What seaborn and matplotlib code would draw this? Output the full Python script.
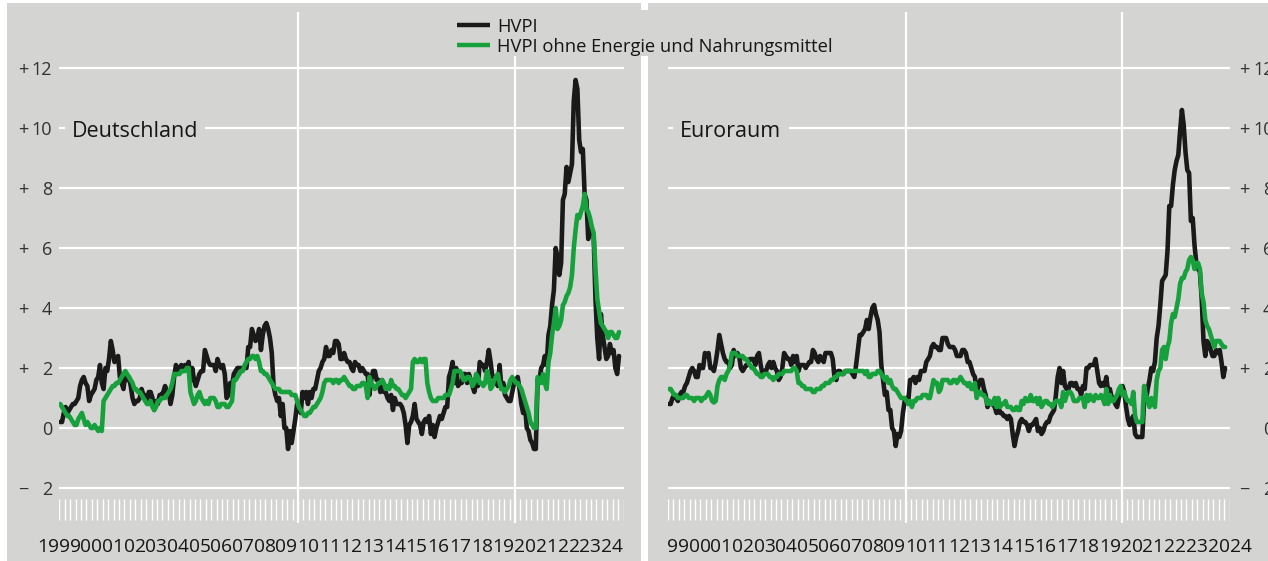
import os
import numpy as np
import pandas as pd
import matplotlib
matplotlib.use("Agg")
import matplotlib.pyplot as plt
import seaborn as sns
from matplotlib.patches import Rectangle
from matplotlib.lines import Line2D
from matplotlib import font_manager as fm

# ---------------- data (annual rates, %, monthly 1999-01 .. 2024-10) ----------------
start_year = 1999

de_hvpi = [
    [0.2, 0.2, 0.5, 0.7, 0.5, 0.6, 0.7, 0.8, 0.8, 0.9, 1.0, 1.4],
    [1.6, 1.7, 1.5, 1.4, 0.9, 1.1, 1.2, 1.3, 1.6, 1.7, 2.1, 1.5],
    [1.3, 2.0, 1.9, 2.3, 2.9, 2.6, 2.2, 2.3, 2.4, 1.7, 1.5, 1.3],
    [1.8, 1.6, 1.7, 1.4, 1.0, 0.8, 0.9, 0.9, 1.0, 1.3, 1.1, 1.1],
    [0.9, 1.2, 1.2, 1.0, 0.6, 0.9, 0.8, 1.1, 1.1, 1.2, 1.4, 1.2],
    [1.2, 0.8, 1.1, 1.7, 2.1, 1.9, 2.0, 2.1, 1.9, 2.1, 2.0, 2.2],
    [1.6, 2.0, 1.6, 1.4, 1.6, 1.8, 1.9, 1.9, 2.6, 2.4, 2.2, 2.1],
    [2.1, 2.1, 1.9, 2.3, 2.1, 2.0, 2.1, 1.8, 1.0, 1.1, 1.5, 1.4],
    [1.8, 1.9, 2.0, 2.0, 2.0, 2.0, 2.0, 2.0, 2.7, 2.7, 3.3, 3.1],
    [2.9, 3.0, 3.3, 2.6, 3.1, 3.4, 3.5, 3.3, 3.0, 2.5, 1.4, 1.1],
    [0.9, 1.0, 0.4, 0.8, 0.0, 0.0, -0.7, -0.1, -0.5, -0.1, 0.3, 0.8],
    [0.8, 0.5, 1.2, 1.0, 1.2, 0.8, 1.2, 1.0, 1.3, 1.3, 1.6, 1.9],
    [2.0, 2.2, 2.3, 2.7, 2.4, 2.4, 2.6, 2.5, 2.9, 2.9, 2.8, 2.3],
    [2.3, 2.5, 2.3, 2.2, 2.2, 2.0, 1.9, 2.2, 2.1, 2.1, 1.9, 2.0],
    [1.9, 1.8, 1.8, 1.1, 1.6, 1.9, 1.9, 1.6, 1.6, 1.2, 1.6, 1.2],
    [1.2, 1.0, 0.9, 1.1, 0.6, 1.0, 0.8, 0.8, 0.8, 0.7, 0.5, 0.1],
    [-0.5, 0.1, 0.2, 0.4, 0.8, 0.3, 0.2, 0.1, -0.2, 0.2, 0.3, 0.2],
    [0.4, -0.2, 0.1, -0.3, 0.0, 0.2, 0.4, 0.3, 0.5, 0.7, 0.7, 1.7],
    [1.9, 2.2, 1.5, 2.0, 1.4, 1.5, 1.5, 1.8, 1.8, 1.5, 1.8, 1.6],
    [1.4, 1.2, 1.5, 1.4, 2.2, 2.1, 2.1, 1.9, 2.2, 2.6, 2.2, 1.7],
    [1.7, 1.7, 1.4, 2.1, 1.3, 1.5, 1.1, 1.0, 0.9, 0.9, 1.2, 1.5],
    [1.6, 1.7, 1.3, 0.8, 0.5, 0.8, 0.0, -0.1, -0.4, -0.5, -0.7, -0.7],
    [1.6, 1.6, 2.0, 2.1, 2.4, 2.1, 3.1, 3.4, 4.1, 4.6, 6.0, 5.7],
    [5.1, 5.5, 7.6, 7.8, 8.7, 8.2, 8.5, 8.8, 10.9, 11.6, 11.3, 9.6],
    [9.2, 9.3, 7.8, 7.6, 6.3, 6.8, 6.5, 6.4, 4.3, 3.0, 2.3, 3.8],
    [3.1, 2.7, 2.3, 2.4, 2.8, 2.5, 2.6, 2.0, 1.8, 2.4],
]

de_core = [
    [0.8, 0.7, 0.6, 0.5, 0.4, 0.4, 0.3, 0.2, 0.1, 0.1, 0.3, 0.4],
    [0.5, 0.3, 0.1, 0.2, 0.1, 0.0, 0.0, 0.1, 0.0, -0.1, 0.0, -0.1],
    [0.9, 1.0, 1.1, 1.2, 1.3, 1.4, 1.4, 1.5, 1.5, 1.6, 1.7, 1.8],
    [1.9, 1.8, 1.7, 1.6, 1.5, 1.3, 1.3, 1.2, 1.2, 1.1, 1.0, 0.9],
    [0.8, 0.8, 0.9, 0.7, 0.6, 0.7, 0.9, 0.9, 1.0, 1.0, 1.0, 1.1],
    [1.2, 1.3, 1.5, 1.8, 1.8, 1.8, 1.8, 1.9, 1.9, 1.9, 2.0, 2.0],
    [1.2, 1.0, 0.8, 0.9, 1.1, 1.2, 1.0, 0.9, 0.8, 0.9, 0.8, 1.0],
    [1.0, 1.0, 0.9, 0.7, 0.7, 0.8, 0.8, 0.8, 0.7, 0.7, 0.8, 0.9],
    [1.6, 1.6, 1.7, 1.8, 1.9, 1.9, 2.1, 2.2, 2.3, 2.3, 2.4, 2.4],
    [2.3, 2.4, 2.2, 1.9, 1.9, 1.8, 1.8, 1.7, 1.6, 1.5, 1.4, 1.3],
    [1.3, 1.3, 1.2, 1.2, 1.2, 1.2, 1.2, 1.2, 1.1, 1.1, 1.1, 0.9],
    [0.7, 0.6, 0.5, 0.4, 0.4, 0.5, 0.5, 0.6, 0.7, 0.7, 0.8, 0.9],
    [1.0, 1.2, 1.5, 1.6, 1.6, 1.6, 1.6, 1.5, 1.6, 1.6, 1.5, 1.6],
    [1.6, 1.7, 1.6, 1.5, 1.4, 1.4, 1.3, 1.3, 1.4, 1.4, 1.4, 1.5],
    [1.5, 1.4, 1.0, 1.7, 1.5, 1.4, 1.3, 1.4, 1.5, 1.5, 1.6, 1.5],
    [1.3, 1.4, 1.3, 1.6, 1.4, 1.4, 1.3, 1.3, 1.2, 1.1, 1.1, 1.0],
    [1.1, 1.2, 1.3, 2.2, 2.3, 2.2, 2.2, 2.3, 2.2, 2.3, 2.3, 1.5],
    [1.2, 1.0, 0.9, 0.9, 0.9, 1.0, 1.0, 1.0, 1.0, 1.1, 1.1, 1.1],
    [1.3, 1.5, 1.9, 1.9, 1.9, 1.9, 1.8, 1.6, 1.6, 1.7, 1.7, 1.6],
    [1.4, 1.5, 1.8, 1.7, 1.5, 1.5, 1.4, 1.5, 1.9, 1.7, 1.3, 1.4],
    [1.6, 1.7, 1.8, 1.5, 1.3, 1.3, 1.2, 1.3, 1.4, 1.6, 1.7, 1.6],
    [1.5, 1.5, 1.4, 1.3, 1.1, 0.9, 0.7, 0.5, 0.2, 0.1, 0.0, 0.0],
    [1.7, 1.6, 1.5, 1.8, 1.5, 1.3, 2.2, 2.5, 3.1, 3.5, 4.0, 3.3],
    [3.4, 3.6, 4.1, 4.2, 4.4, 4.5, 4.7, 5.1, 6.0, 6.6, 7.1, 7.0],
    [7.2, 7.4, 7.8, 7.3, 7.2, 7.0, 6.7, 6.5, 5.3, 4.3, 3.9, 3.5],
    [3.4, 3.3, 3.2, 3.0, 3.2, 3.2, 3.1, 3.0, 3.0, 3.2],
]

ea_hvpi = [
    [0.8, 0.8, 1.0, 1.1, 1.0, 0.9, 1.1, 1.2, 1.2, 1.4, 1.5, 1.7],
    [1.9, 2.0, 1.9, 1.7, 1.7, 2.1, 2.0, 2.0, 2.5, 2.4, 2.5, 2.0],
    [2.0, 1.9, 2.2, 2.6, 3.1, 2.8, 2.5, 2.3, 2.2, 2.2, 2.0, 2.1],
    [2.6, 2.4, 2.5, 2.4, 2.0, 1.9, 2.0, 2.1, 2.1, 2.3, 2.3, 2.3],
    [2.1, 2.4, 2.5, 2.1, 1.8, 1.9, 1.9, 2.1, 2.2, 2.0, 2.2, 2.0],
    [1.9, 1.6, 1.7, 2.0, 2.5, 2.4, 2.3, 2.3, 2.1, 2.4, 2.2, 2.4],
    [1.9, 2.1, 2.1, 2.1, 2.0, 2.1, 2.2, 2.2, 2.6, 2.5, 2.3, 2.2],
    [2.4, 2.3, 2.2, 2.5, 2.5, 2.5, 2.5, 2.3, 1.7, 1.6, 1.9, 1.9],
    [1.8, 1.8, 1.9, 1.9, 1.9, 1.9, 1.8, 1.7, 2.1, 2.6, 3.1, 3.1],
    [3.2, 3.3, 3.6, 3.3, 3.7, 4.0, 4.1, 3.8, 3.6, 3.2, 2.1, 1.6],
    [1.1, 1.2, 0.6, 0.6, 0.0, -0.1, -0.6, -0.2, -0.3, -0.1, 0.5, 0.9],
    [1.0, 0.9, 1.6, 1.6, 1.7, 1.5, 1.7, 1.6, 1.9, 1.9, 1.9, 2.2],
    [2.3, 2.4, 2.7, 2.8, 2.7, 2.7, 2.6, 2.6, 3.0, 3.0, 3.0, 2.8],
    [2.7, 2.7, 2.7, 2.6, 2.4, 2.4, 2.4, 2.6, 2.6, 2.5, 2.2, 2.2],
    [2.0, 1.8, 1.7, 1.2, 1.4, 1.6, 1.6, 1.3, 1.1, 0.7, 0.9, 0.8],
    [0.8, 0.7, 0.5, 0.7, 0.5, 0.5, 0.4, 0.4, 0.3, 0.4, 0.3, -0.2],
    [-0.6, -0.3, -0.1, 0.2, 0.3, 0.2, 0.2, 0.1, -0.1, 0.1, 0.1, 0.2],
    [0.3, -0.1, 0.0, -0.2, -0.1, 0.1, 0.2, 0.2, 0.4, 0.5, 0.6, 1.1],
    [1.7, 2.0, 1.5, 1.9, 1.4, 1.3, 1.3, 1.5, 1.5, 1.4, 1.5, 1.3],
    [1.3, 1.1, 1.4, 1.3, 2.0, 2.0, 2.1, 2.1, 2.1, 2.3, 1.9, 1.5],
    [1.4, 1.5, 1.4, 1.7, 1.2, 1.3, 1.0, 1.0, 0.8, 0.7, 1.0, 1.3],
    [1.4, 1.2, 0.7, 0.3, 0.1, 0.3, 0.4, -0.2, -0.3, -0.3, -0.3, -0.3],
    [0.9, 0.9, 1.3, 1.6, 2.0, 1.9, 2.2, 3.0, 3.4, 4.1, 4.9, 5.0],
    [5.1, 5.9, 7.4, 7.4, 8.1, 8.6, 8.9, 9.1, 9.9, 10.6, 10.1, 9.2],
    [8.6, 8.5, 6.9, 7.0, 6.1, 5.5, 5.3, 5.2, 4.3, 2.9, 2.4, 2.9],
    [2.8, 2.6, 2.4, 2.4, 2.6, 2.5, 2.6, 2.2, 1.7, 2.0],
]

ea_core = [
    [1.3, 1.3, 1.2, 1.1, 1.1, 1.0, 1.0, 1.0, 1.0, 1.1, 1.1, 1.0],
    [1.0, 1.0, 0.9, 1.0, 1.0, 1.0, 0.9, 1.0, 1.0, 1.1, 1.2, 1.1],
    [0.9, 0.85, 0.9, 1.4, 1.6, 1.7, 1.7, 1.6, 1.8, 1.9, 2.1, 2.5],
    [2.5, 2.5, 2.4, 2.4, 2.4, 2.4, 2.3, 2.3, 2.2, 2.1, 2.0, 2.0],
    [1.9, 1.8, 1.8, 1.7, 1.7, 1.8, 1.8, 1.8, 1.7, 1.7, 1.6, 1.7],
    [1.7, 1.8, 1.8, 1.8, 1.9, 1.9, 1.9, 1.9, 1.9, 2.0, 2.0, 1.9],
    [1.5, 1.5, 1.4, 1.4, 1.3, 1.3, 1.3, 1.3, 1.2, 1.2, 1.3, 1.3],
    [1.3, 1.4, 1.4, 1.5, 1.5, 1.5, 1.6, 1.6, 1.7, 1.7, 1.8, 1.8],
    [1.8, 1.8, 1.9, 1.9, 1.9, 1.9, 1.9, 1.9, 1.9, 1.9, 1.9, 1.9],
    [1.9, 1.8, 1.9, 1.7, 1.7, 1.8, 1.8, 1.8, 1.9, 1.9, 1.8, 1.7],
    [1.6, 1.7, 1.5, 1.6, 1.4, 1.3, 1.3, 1.2, 1.1, 1.0, 1.0, 1.0],
    [0.9, 0.8, 0.9, 0.7, 0.9, 0.9, 1.0, 1.0, 1.0, 1.1, 1.1, 1.1],
    [1.0, 1.0, 1.3, 1.6, 1.5, 1.5, 1.2, 1.3, 1.6, 1.6, 1.6, 1.6],
    [1.5, 1.5, 1.6, 1.6, 1.5, 1.6, 1.7, 1.6, 1.5, 1.5, 1.4, 1.5],
    [1.3, 1.3, 1.5, 1.0, 1.2, 1.2, 1.1, 1.1, 1.0, 0.8, 0.9, 0.8],
    [0.8, 1.0, 0.7, 1.0, 0.7, 0.8, 0.8, 0.9, 0.7, 0.7, 0.7, 0.6],
    [0.6, 0.7, 0.6, 0.6, 0.9, 0.8, 1.0, 0.9, 0.9, 1.1, 0.9, 0.9],
    [1.0, 0.8, 1.0, 0.7, 0.8, 0.9, 0.9, 0.8, 0.8, 0.7, 0.8, 0.9],
    [0.9, 0.9, 0.7, 1.2, 0.9, 1.1, 1.2, 1.2, 1.1, 0.9, 0.9, 0.9],
    [1.0, 1.0, 1.0, 0.7, 1.1, 0.9, 1.1, 1.0, 0.9, 1.1, 1.0, 1.0],
    [1.1, 1.0, 0.8, 1.3, 0.8, 1.1, 0.9, 0.9, 1.0, 1.1, 1.3, 1.4],
    [1.1, 1.2, 1.0, 0.9, 0.9, 0.8, 1.2, 0.4, 0.2, 0.2, 0.2, 0.2],
    [1.4, 1.1, 0.9, 0.7, 1.0, 0.9, 0.7, 1.6, 1.9, 2.0, 2.6, 2.7],
    [2.3, 2.7, 2.9, 3.5, 3.8, 3.7, 4.0, 4.3, 4.8, 5.0, 5.0, 5.2],
    [5.3, 5.6, 5.7, 5.6, 5.3, 5.5, 5.5, 5.3, 4.5, 4.2, 3.6, 3.4],
    [3.3, 3.1, 2.9, 2.7, 2.9, 2.9, 2.9, 2.8, 2.7, 2.7],
]

legend_labels = ["HVPI", "HVPI ohne Energie und Nahrungsmittel"]
panel_titles = ["Deutschland", "Euroraum"]
y_ticks = [12, 10, 8, 6, 4, 2, 0, -2]
y_signs = ["+", "+", "+", "+", "+", "+", "", "\u2212"]
y_nums = ["12", "10", "8", "6", "4", "2", "0", "2"]
x_labels_de = ["1999"] + ["%02d" % (y % 100) for y in range(2000, 2025)]
x_labels_ea = ["%02d" % (y % 100) for y in range(1999, 2024)] + ["2024"]


def to_frame(rows):
    vals = [v for row in rows for v in row]
    t = start_year + (np.arange(len(vals)) + 0.5) / 12.0
    return pd.DataFrame({"t": t, "v": vals})


# ---------------- style ----------------
sns.set_style("white")
names = {f.name for f in fm.fontManager.ttflist}
base_font = "Open Sans" if "Open Sans" in names else "DejaVu Sans"
plt.rcParams["font.family"] = [base_font, "DejaVu Sans"]


def find_font(files):
    for key in files:
        for f in fm.fontManager.ttflist:
            if os.path.basename(f.fname).lower() == key.lower():
                return f.fname
    return None


narrow_path = find_font(["LiberationSansNarrow-Regular.ttf", "NotoSans-Condensed.ttf",
                         "NotoSans-CondensedRegular.ttf"])
if narrow_path:
    xlab_prop = fm.FontProperties(fname=narrow_path, size=15.5)
    ylab_prop = fm.FontProperties(fname=narrow_path, size=13.5)
else:
    xlab_prop = fm.FontProperties(family=base_font, size=13.8)
    ylab_prop = fm.FontProperties(family=base_font, size=13.0)

GRAY = "#d4d4d2"
BLACK = "#1a1a1a"
GREEN = "#16a13c"
TXT = "#161616"

W, H = 1268, 561
fig = plt.figure(figsize=(W / 100, H / 100), dpi=100, facecolor="white")

# panel backgrounds
fig.add_artist(Rectangle((7 / W, 0), (641 - 7) / W, (H - 3) / H, transform=fig.transFigure,
                         fc=GRAY, ec="none", zorder=-5))
fig.add_artist(Rectangle((648 / W, 0), (W - 648) / W, (H - 3) / H, transform=fig.transFigure,
                         fc=GRAY, ec="none", zorder=-5))

ax_bottom = (H - 522.5) / H
ax_height = 510.5 / H
axL = fig.add_axes([59.3 / W, ax_bottom, 564.2 / W, ax_height])
axR = fig.add_axes([668.0 / W, ax_bottom, 561.6 / W, ax_height])

panels = [
    (axL, de_hvpi, de_core, panel_titles[0], x_labels_de, "left"),
    (axR, ea_hvpi, ea_core, panel_titles[1], x_labels_ea, "right"),
]

for ax, hv, core, title, xlabs, side in panels:
    ax.set_xlim(1999, 2025)
    ax.set_ylim(-3.15, 13.867)
    ax.set_axis_off()
    ax.patch.set_alpha(0)

    # grid
    for yv in y_ticks:
        ax.axhline(yv, color="white", lw=1.6, zorder=1)
    for xv in (2010, 2020):
        ax.axvline(xv, color="white", lw=1.6, zorder=1)
    qt = np.arange(1999, 2025.001, 0.25)
    ax.vlines(qt, -3.08, -2.38, color="white", lw=1.0, zorder=1)

    dh = to_frame(hv)
    dc = to_frame(core)
    sns.lineplot(data=dh, x="t", y="v", ax=ax, color=BLACK, lw=3.3, estimator=None,
                 legend=False, zorder=3)
    sns.lineplot(data=dc, x="t", y="v", ax=ax, color=GREEN, lw=3.3, estimator=None,
                 legend=False, zorder=4)
    ax.set_xlabel("")
    ax.set_ylabel("")

    # panel title
    ax.text(1999.57, 9.69, title, fontsize=15.5, color=TXT, ha="left", va="baseline",
            zorder=5, bbox=dict(boxstyle="square,pad=0.33", fc=GRAY, ec="none"))

    # y labels
    if side == "left":
        sx, nx = 1997.10, 1998.66
    else:
        sx, nx = 2025.44, 2027.03
    for yv, sg, nm in zip(y_ticks, y_signs, y_nums):
        if sg:
            ax.text(sx, yv - 0.23, sg, color="#333333", ha="left", va="baseline",
                    fontproperties=ylab_prop)
        ax.text(nx, yv - 0.23, nm, color="#333333", ha="right", va="baseline",
                fontproperties=ylab_prop)

    # x labels
    for i, lab in enumerate(xlabs):
        yr = 1999 + i
        if len(lab) == 4 and side == "left":
            xp, ha = yr + 1.0, "right"
        elif len(lab) == 4:
            xp, ha = yr, "left"
        else:
            xp, ha = yr + 0.47, "center"
        ax.text(xp, -4.12, lab, color=TXT, ha=ha, va="baseline", fontproperties=xlab_prop)

# legend (key box straddling both panels)
fig.add_artist(Rectangle((450 / W, 1 - 56 / H), 392 / W, 46 / H, transform=fig.transFigure,
                         fc=GRAY, ec="none", zorder=6))
for (ypx, col, lab) in [(25, BLACK, legend_labels[0]), (45, GREEN, legend_labels[1])]:
    fig.add_artist(Line2D([457 / W, 490 / W], [1 - ypx / H, 1 - ypx / H],
                          transform=fig.transFigure, color=col, lw=3.2,
                          solid_capstyle="butt", zorder=7))
    fig.text(497 / W, 1 - (ypx + 7.5) / H, lab, fontsize=13.2, color=TXT, ha="left",
             va="baseline", zorder=7)

fig.savefig("out.png", dpi=100, facecolor="white")
